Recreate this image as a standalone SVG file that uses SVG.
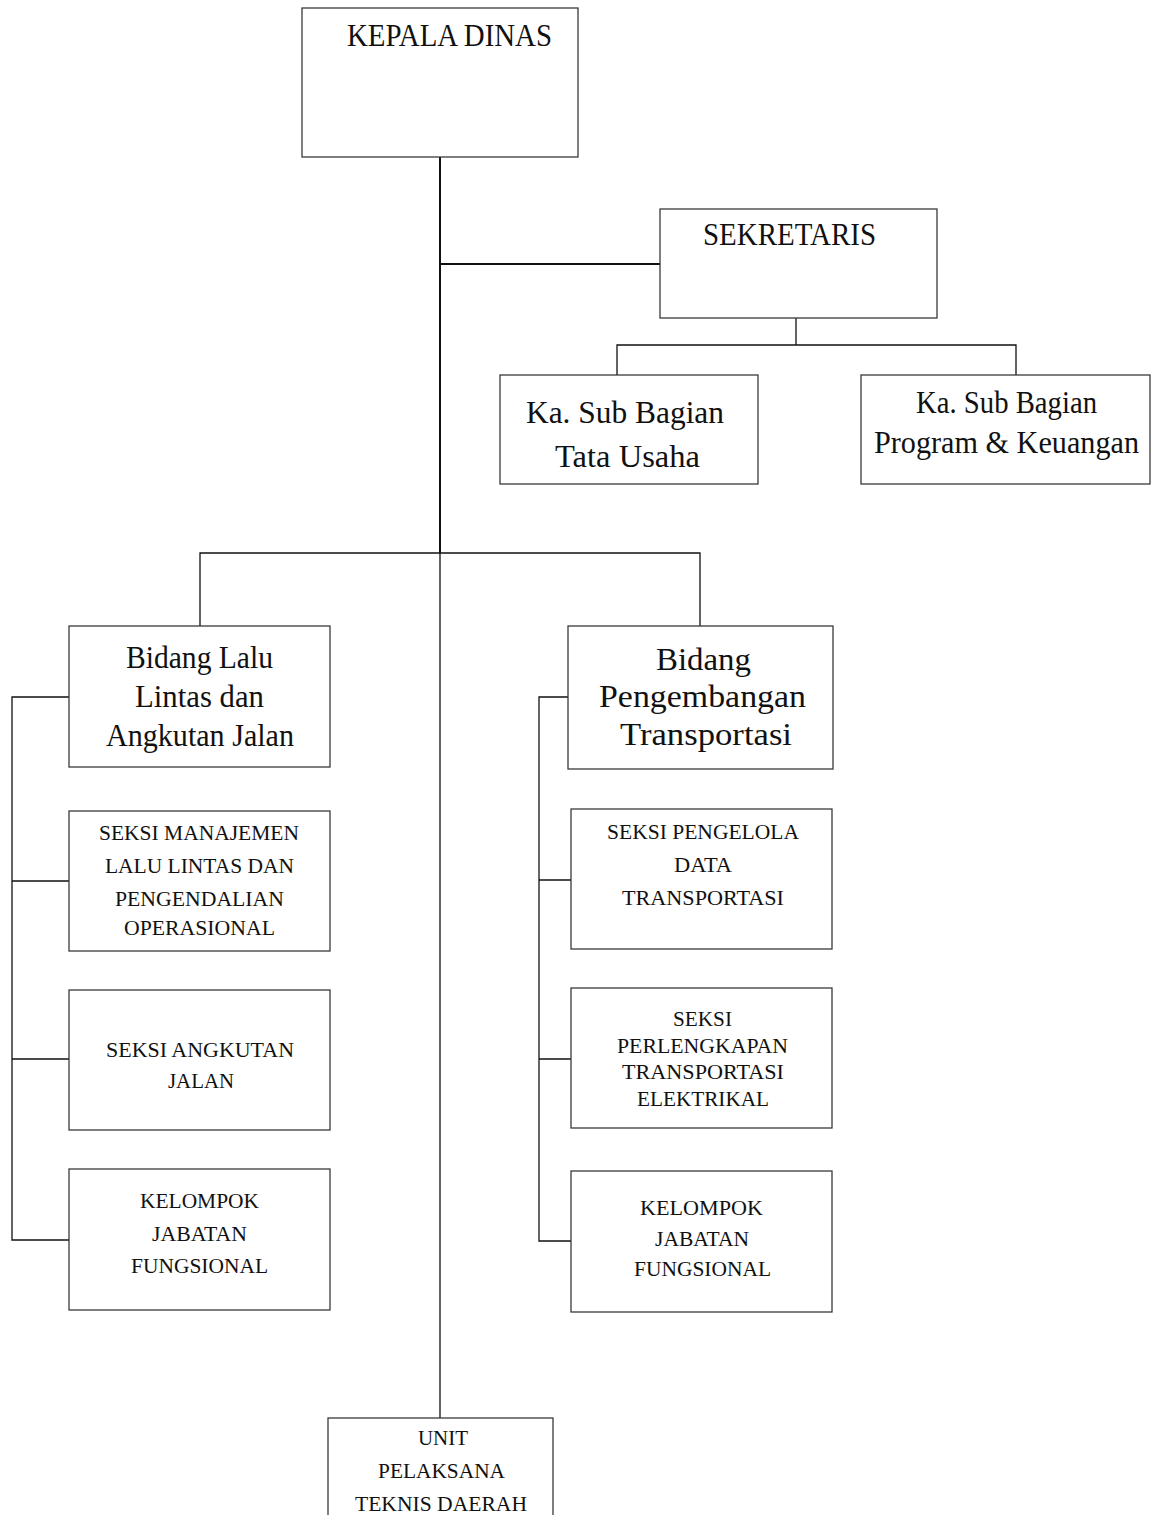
<svg xmlns="http://www.w3.org/2000/svg" width="1157" height="1515" viewBox="0 0 1157 1515">
<style>
.box{fill:#fff;stroke:#3a3a3a;stroke-width:1.3}
.ln{fill:none;stroke:#111;stroke-width:1.3}
.trunk{fill:none;stroke:#111;stroke-width:2}
text{font-family:"Liberation Serif","DejaVu Serif",serif;fill:#111;text-anchor:middle}
.big{font-size:32px}
.mid{font-size:31px}
.sm{font-size:22px}
</style>
<rect width="1157" height="1515" fill="#fff"/>
<g id="connectors">
<path class="trunk" d="M440,157 V553"/>
<path class="ln" d="M440,553 V1418"/>
<path class="trunk" d="M440,264 H660"/>
<path class="ln" d="M796,318 V345 M617,375 V345 H1016 V375"/>
<path class="ln" d="M200,626 V553 H700 V626"/>
<path class="ln" d="M69,697 H12 V1240 H69 M12,881 H69 M12,1059 H69"/>
<path class="ln" d="M568,697 H539 V1241 H571 M539,880 H571 M539,1059 H571"/>
</g>
<g id="kepala">
<rect class="box" x="302" y="8" width="276" height="149"/>
<text class="big" x="449.5" y="46" textLength="205" lengthAdjust="spacingAndGlyphs">KEPALA DINAS</text>
</g>
<g id="sekretaris">
<rect class="box" x="660" y="209" width="277" height="109"/>
<text class="big" x="789.5" y="245" textLength="173" lengthAdjust="spacingAndGlyphs">SEKRETARIS</text>
</g>
<g id="tata-usaha">
<rect class="box" x="500" y="375" width="258" height="109"/>
<text class="big" x="625" y="423" textLength="198" lengthAdjust="spacingAndGlyphs">Ka. Sub Bagian</text>
<text class="big" x="627.5" y="467" textLength="145" lengthAdjust="spacingAndGlyphs">Tata Usaha</text>
</g>
<g id="program-keuangan">
<rect class="box" x="861" y="375" width="289" height="109"/>
<text class="mid" x="1006.5" y="413" textLength="181" lengthAdjust="spacingAndGlyphs">Ka. Sub Bagian</text>
<text class="mid" x="1006.5" y="453" textLength="265" lengthAdjust="spacingAndGlyphs">Program &amp; Keuangan</text>
</g>
<g id="bidang-llaj">
<rect class="box" x="69" y="626" width="261" height="141"/>
<text class="mid" x="199.5" y="668" textLength="147" lengthAdjust="spacingAndGlyphs">Bidang Lalu</text>
<text class="mid" x="199.5" y="707" textLength="129" lengthAdjust="spacingAndGlyphs">Lintas dan</text>
<text class="mid" x="200" y="746" textLength="188" lengthAdjust="spacingAndGlyphs">Angkutan Jalan</text>
</g>
<g id="bidang-pengembangan">
<rect class="box" x="568" y="626" width="265" height="143"/>
<text class="big" x="703.5" y="670" textLength="95" lengthAdjust="spacingAndGlyphs">Bidang</text>
<text class="big" x="702.5" y="707" textLength="207" lengthAdjust="spacingAndGlyphs">Pengembangan</text>
<text class="big" x="706" y="745" textLength="172" lengthAdjust="spacingAndGlyphs">Transportasi</text>
</g>
<g id="seksi-manajemen">
<rect class="box" x="69" y="811" width="261" height="140"/>
<text class="sm" x="199" y="840" textLength="200" lengthAdjust="spacingAndGlyphs">SEKSI MANAJEMEN</text>
<text class="sm" x="199.5" y="873" textLength="189" lengthAdjust="spacingAndGlyphs">LALU LINTAS DAN</text>
<text class="sm" x="199.5" y="906" textLength="169" lengthAdjust="spacingAndGlyphs">PENGENDALIAN</text>
<text class="sm" x="199.5" y="935" textLength="151" lengthAdjust="spacingAndGlyphs">OPERASIONAL</text>
</g>
<g id="seksi-angkutan">
<rect class="box" x="69" y="990" width="261" height="140"/>
<text class="sm" x="200" y="1057" textLength="188" lengthAdjust="spacingAndGlyphs">SEKSI ANGKUTAN</text>
<text class="sm" x="201" y="1088" textLength="66" lengthAdjust="spacingAndGlyphs">JALAN</text>
</g>
<g id="kelompok-kiri">
<rect class="box" x="69" y="1169" width="261" height="141"/>
<text class="sm" x="199.5" y="1208" textLength="119" lengthAdjust="spacingAndGlyphs">KELOMPOK</text>
<text class="sm" x="199.5" y="1241" textLength="95" lengthAdjust="spacingAndGlyphs">JABATAN</text>
<text class="sm" x="199.5" y="1273" textLength="137" lengthAdjust="spacingAndGlyphs">FUNGSIONAL</text>
</g>
<g id="seksi-pengelola">
<rect class="box" x="571" y="809" width="261" height="140"/>
<text class="sm" x="703" y="839" textLength="192" lengthAdjust="spacingAndGlyphs">SEKSI PENGELOLA</text>
<text class="sm" x="703" y="872" textLength="58" lengthAdjust="spacingAndGlyphs">DATA</text>
<text class="sm" x="703" y="905" textLength="162" lengthAdjust="spacingAndGlyphs">TRANSPORTASI</text>
</g>
<g id="seksi-perlengkapan">
<rect class="box" x="571" y="988" width="261" height="140"/>
<text class="sm" x="702.5" y="1026" textLength="59" lengthAdjust="spacingAndGlyphs">SEKSI</text>
<text class="sm" x="702.5" y="1053" textLength="171" lengthAdjust="spacingAndGlyphs">PERLENGKAPAN</text>
<text class="sm" x="703" y="1079" textLength="162" lengthAdjust="spacingAndGlyphs">TRANSPORTASI</text>
<text class="sm" x="703" y="1106" textLength="132" lengthAdjust="spacingAndGlyphs">ELEKTRIKAL</text>
</g>
<g id="kelompok-kanan">
<rect class="box" x="571" y="1171" width="261" height="141"/>
<text class="sm" x="701.5" y="1215" textLength="123" lengthAdjust="spacingAndGlyphs">KELOMPOK</text>
<text class="sm" x="702" y="1246" textLength="94" lengthAdjust="spacingAndGlyphs">JABATAN</text>
<text class="sm" x="702.5" y="1276" textLength="137" lengthAdjust="spacingAndGlyphs">FUNGSIONAL</text>
</g>
<g id="uptd">
<rect class="box" x="328" y="1418" width="225" height="110"/>
<text class="sm" x="443" y="1445" textLength="50" lengthAdjust="spacingAndGlyphs">UNIT</text>
<text class="sm" x="441.5" y="1478" textLength="127" lengthAdjust="spacingAndGlyphs">PELAKSANA</text>
<text class="sm" x="441" y="1511" textLength="172" lengthAdjust="spacingAndGlyphs">TEKNIS DAERAH</text>
</g>
</svg>
